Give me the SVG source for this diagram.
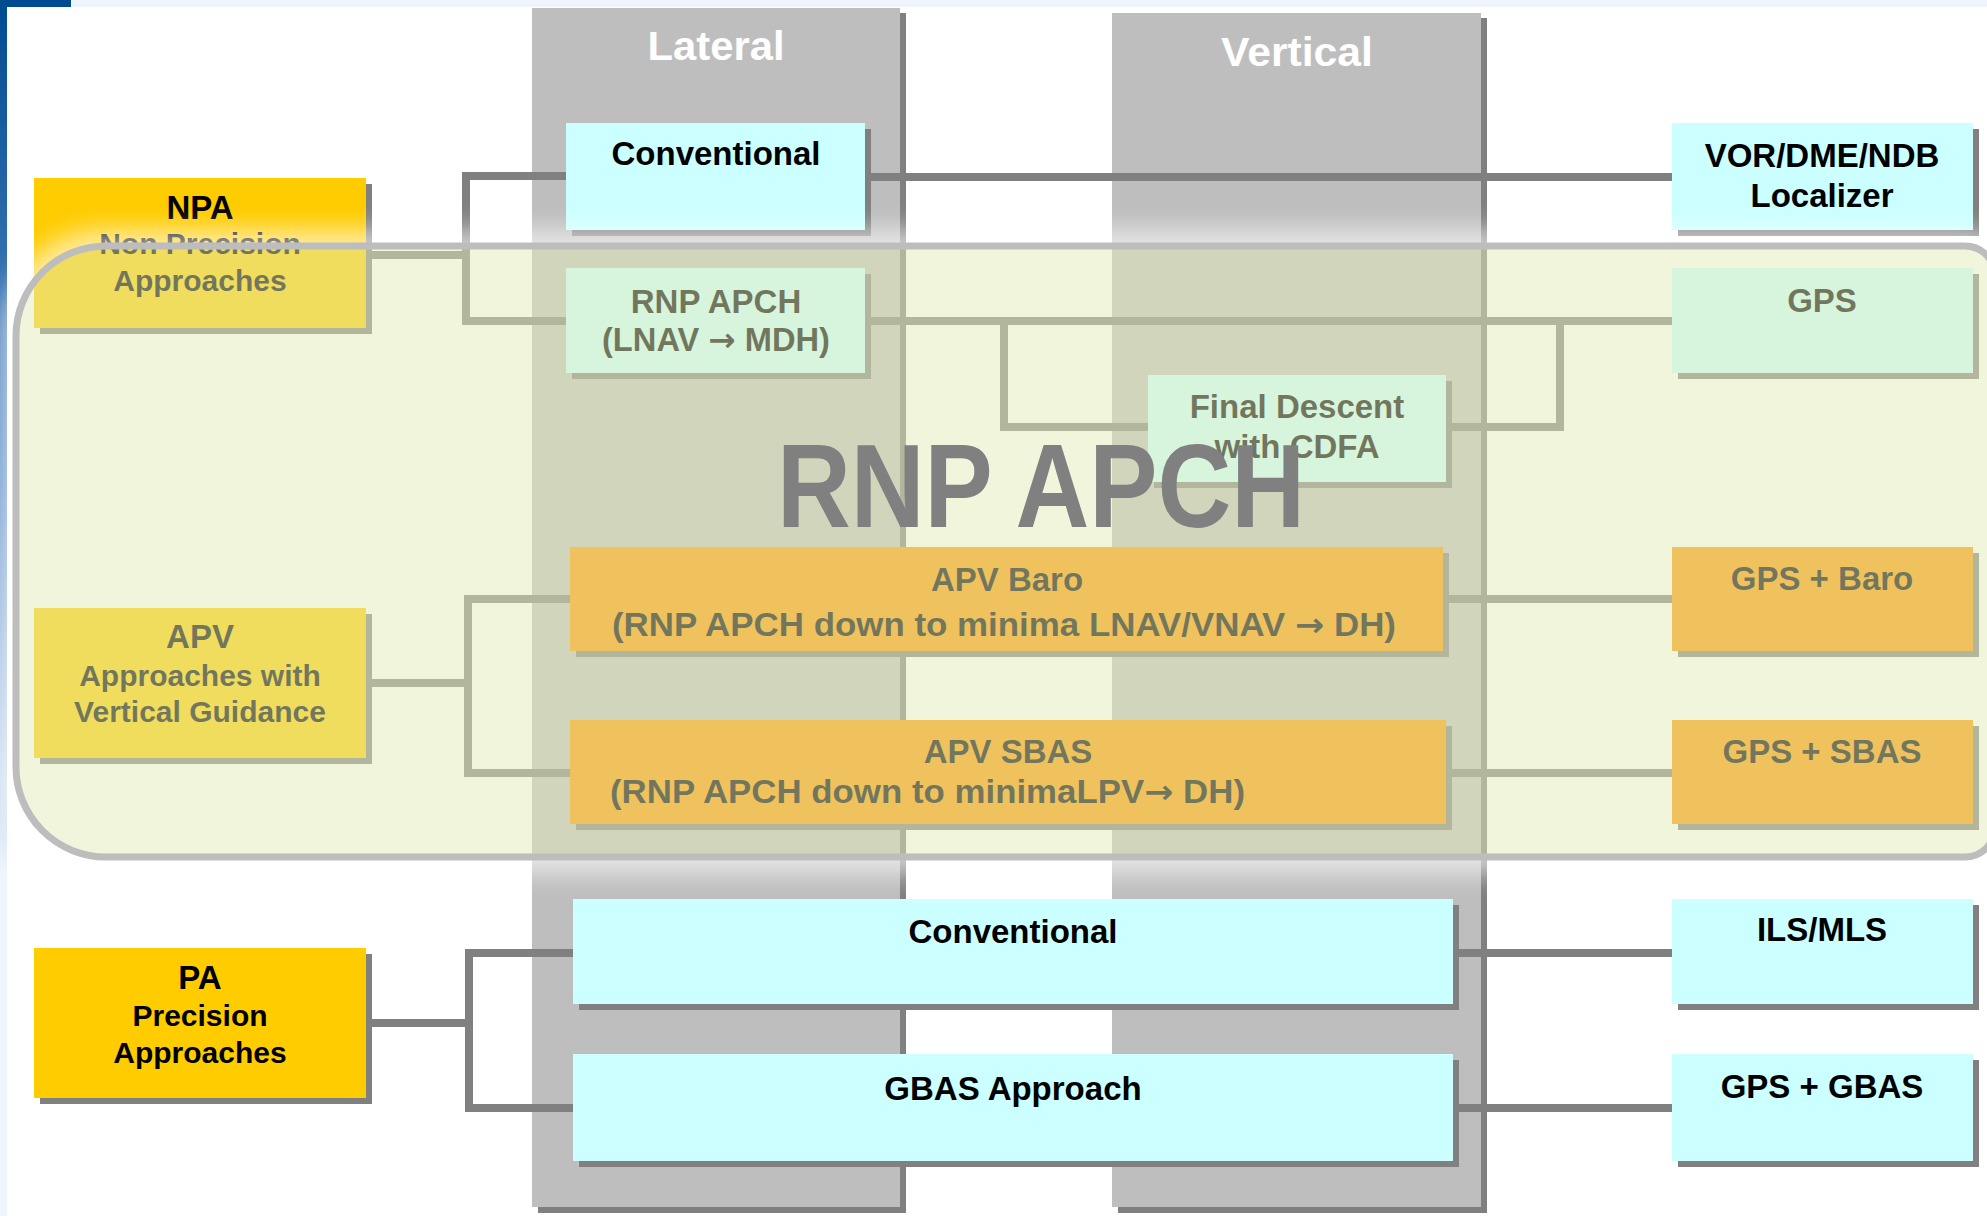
<svg xmlns="http://www.w3.org/2000/svg" width="1987" height="1216" viewBox="0 0 1987 1216">
<defs>
<style>
text{font-family:"Liberation Sans",Arial,sans-serif;font-weight:bold;text-anchor:middle;fill:#000}
.arr{font-family:"DejaVu Sans",sans-serif}
.col{fill:#bebebe}
.sh{fill:#808080}
.gold{fill:#ffcc00}
.cyan{fill:#ccffff}
.orange{fill:#ff9900}
.t33{font-size:33px}
.t30{font-size:30px}
.hdr{font-size:41px;fill:#fff}
.conn path{fill:none;stroke:#808080;stroke-width:8}
</style>
<linearGradient id="leftbar" x1="0" y1="0" x2="0" y2="1">
<stop offset="0" stop-color="#004a90"/>
<stop offset="0.4" stop-color="#5d8fc8"/>
<stop offset="0.72" stop-color="#eef5fd"/>
<stop offset="1" stop-color="#eef5fd"/>
</linearGradient>
<path id="region" d="M106,246 H1965 A30,30 0 0 1 1995,276 V827 A30,30 0 0 1 1965,857 H106 A90,90 0 0 1 16,767 V336 A90,90 0 0 1 106,246 Z"/>
<mask id="outside" maskUnits="userSpaceOnUse" x="0" y="0" width="1987" height="1216">
<rect width="1987" height="1216" fill="#fff"/>
<use href="#region" fill="#000"/>
</mask>
<filter id="blur" filterUnits="userSpaceOnUse" x="-50" y="150" width="2100" height="800">
<feGaussianBlur stdDeviation="13"/>
</filter>
</defs>
<rect width="1987" height="1216" fill="#fff"/>
<rect x="0" y="0" width="1987" height="7" fill="#eef4fc"/>
<rect x="0" y="0" width="71" height="7" fill="#004a90"/>
<rect x="0" y="0" width="7" height="1216" fill="url(#leftbar)"/>

<g id="lateral-column">
<rect class="sh" x="538" y="13" width="368" height="1200"/>
<rect class="col" x="532" y="8" width="368" height="1199"/>
<text class="hdr" x="716" y="60" textLength="137" lengthAdjust="spacingAndGlyphs">Lateral</text>
</g>
<g id="vertical-column">
<rect class="sh" x="1118" y="18" width="369" height="1195"/>
<rect class="col" x="1112" y="13" width="369" height="1194"/>
<text class="hdr" x="1297" y="66" textLength="152" lengthAdjust="spacingAndGlyphs">Vertical</text>
</g>

<g id="connectors" class="conn">
<path d="M366,255 H466 M466,176 V321 M462,176 H566 M462,321 H566"/>
<path d="M865,177 H1672"/>
<path d="M865,321 H1672"/>
<path d="M1004,321 V427 H1148"/>
<path d="M1446,427 H1560 V321"/>
<path d="M366,683 H468 M468,599 V773 M464,599 H570 M464,773 H570"/>
<path d="M1443,599 H1672"/>
<path d="M1446,773 H1672"/>
<path d="M366,1023 H469 M469,953 V1108 M465,953 H573 M465,1108 H573"/>
<path d="M1453,953 H1672"/>
<path d="M1453,1108 H1672"/>
</g>

<g id="npa">
<rect class="sh" x="40" y="184" width="332" height="150"/>
<rect class="gold" x="34" y="178" width="332" height="150"/>
<text class="t33" x="200" y="219">NPA</text>
<text class="t30" x="200" y="254">Non Precision</text>
<text class="t30" x="200" y="291">Approaches</text>
</g>
<g id="apv">
<rect class="sh" x="40" y="614" width="332" height="150"/>
<rect class="gold" x="34" y="608" width="332" height="150"/>
<text class="t33" x="200" y="648">APV</text>
<text class="t30" x="200" y="686">Approaches with</text>
<text class="t30" x="200" y="722">Vertical Guidance</text>
</g>
<g id="pa">
<rect class="sh" x="40" y="954" width="332" height="150"/>
<rect class="gold" x="34" y="948" width="332" height="150"/>
<text class="t33" x="200" y="989">PA</text>
<text class="t30" x="200" y="1026">Precision</text>
<text class="t30" x="200" y="1063">Approaches</text>
</g>

<g id="lateral-conventional">
<rect class="sh" x="572" y="129" width="299" height="107"/>
<rect class="cyan" x="566" y="123" width="299" height="107"/>
<text class="t33" x="716" y="165">Conventional</text>
</g>
<g id="lateral-rnp-apch">
<rect class="sh" x="572" y="274" width="299" height="105"/>
<rect class="cyan" x="566" y="268" width="299" height="105"/>
<text class="t33" x="716" y="313">RNP APCH</text>
<text class="t33" x="716" y="351" textLength="228" lengthAdjust="spacingAndGlyphs">(LNAV <tspan class="arr">→</tspan> MDH)</text>
</g>
<g id="final-descent">
<rect class="sh" x="1154" y="381" width="298" height="107"/>
<rect class="cyan" x="1148" y="375" width="298" height="107"/>
<text class="t33" x="1297" y="418">Final Descent</text>
<text class="t33" x="1297" y="458">with CDFA</text>
</g>
<g id="apv-baro">
<rect class="sh" x="576" y="553" width="873" height="104"/>
<rect class="orange" x="570" y="547" width="873" height="104"/>
<text class="t33" x="1007" y="591">APV Baro</text>
<text class="t33" x="1004" y="636" textLength="784" lengthAdjust="spacingAndGlyphs">(RNP APCH down to minima LNAV/VNAV <tspan class="arr">→</tspan> DH)</text>
</g>
<g id="apv-sbas">
<rect class="sh" x="576" y="726" width="876" height="104"/>
<rect class="orange" x="570" y="720" width="876" height="104"/>
<text class="t33" x="1008" y="763">APV SBAS</text>
<text class="t33" x="610" y="803" style="text-anchor:start" textLength="635" lengthAdjust="spacingAndGlyphs">(RNP APCH down to minimaLPV<tspan class="arr">→</tspan> DH)</text>
</g>
<g id="pa-conventional">
<rect class="sh" x="579" y="905" width="880" height="105"/>
<rect class="cyan" x="573" y="899" width="880" height="105"/>
<text class="t33" x="1013" y="943">Conventional</text>
</g>
<g id="gbas-approach">
<rect class="sh" x="579" y="1060" width="880" height="107"/>
<rect class="cyan" x="573" y="1054" width="880" height="107"/>
<text class="t33" x="1013" y="1100">GBAS Approach</text>
</g>

<g id="vor-dme-ndb">
<rect class="sh" x="1678" y="129" width="301" height="107"/>
<rect class="cyan" x="1672" y="123" width="301" height="107"/>
<text class="t33" x="1822" y="167">VOR/DME/NDB</text>
<text class="t33" x="1822" y="207">Localizer</text>
</g>
<g id="gps">
<rect class="sh" x="1678" y="274" width="301" height="105"/>
<rect class="cyan" x="1672" y="268" width="301" height="105"/>
<text class="t33" x="1822" y="312">GPS</text>
</g>
<g id="gps-baro">
<rect class="sh" x="1678" y="553" width="301" height="104"/>
<rect class="orange" x="1672" y="547" width="301" height="104"/>
<text class="t33" x="1822" y="590">GPS + Baro</text>
</g>
<g id="gps-sbas">
<rect class="sh" x="1678" y="726" width="301" height="104"/>
<rect class="orange" x="1672" y="720" width="301" height="104"/>
<text class="t33" x="1822" y="763">GPS + SBAS</text>
</g>
<g id="ils-mls">
<rect class="sh" x="1678" y="905" width="301" height="105"/>
<rect class="cyan" x="1672" y="899" width="301" height="105"/>
<text class="t33" x="1822" y="941">ILS/MLS</text>
</g>
<g id="gps-gbas">
<rect class="sh" x="1678" y="1060" width="301" height="107"/>
<rect class="cyan" x="1672" y="1054" width="301" height="107"/>
<text class="t33" x="1822" y="1098">GPS + GBAS</text>
</g>

<g id="rnp-apch-region">
<g mask="url(#outside)">
<use href="#region" fill="none" stroke="#fff" stroke-width="30" opacity="0.7" filter="url(#blur)"/>
</g>
<use href="#region" fill="#e2ecba" fill-opacity="0.5" stroke="#bdbdbd" stroke-width="7"/>
<text x="1041" y="527" style="font-size:118px;fill:#808080" textLength="528" lengthAdjust="spacingAndGlyphs">RNP APCH</text>
</g>
</svg>
